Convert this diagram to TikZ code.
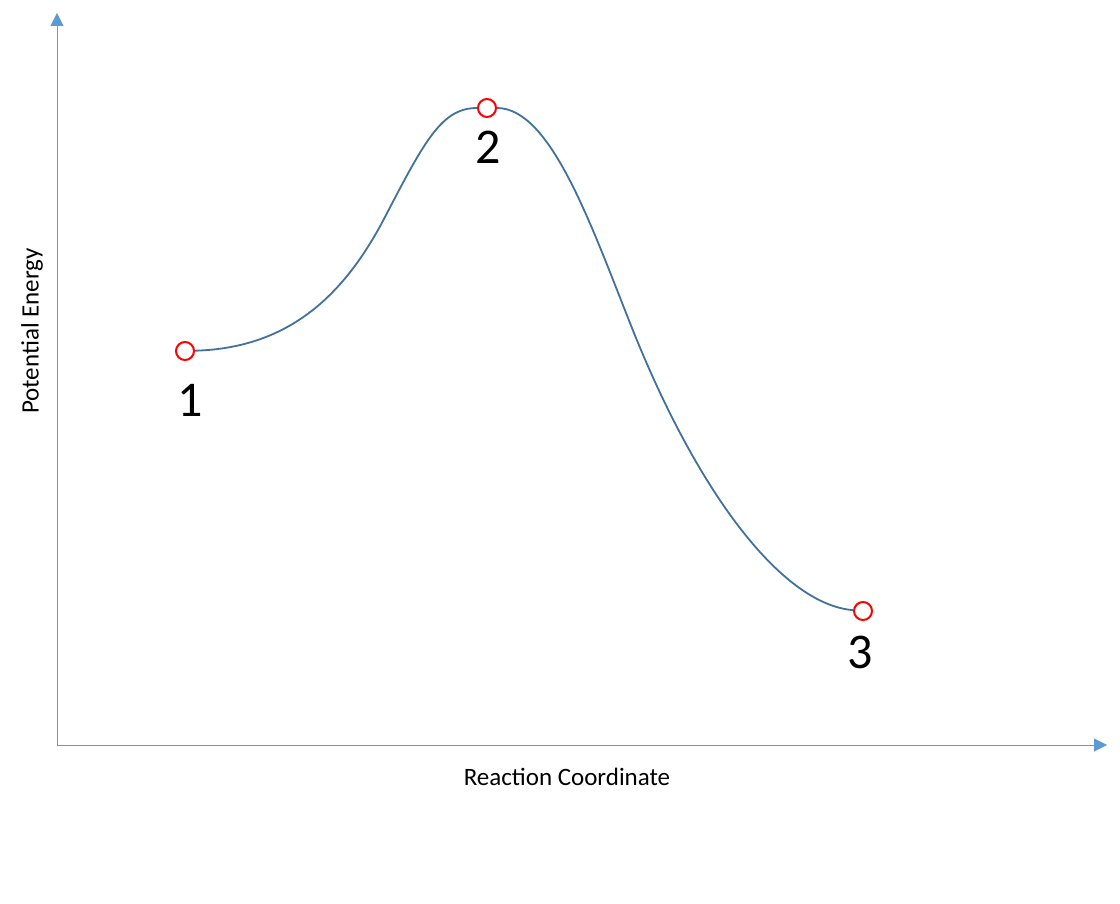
\documentclass[tikz,border=0pt]{standalone}
\usepackage{fontspec}
\setmainfont{Carlito}
\usepackage{tikz}
\usetikzlibrary{arrows.meta}
\definecolor{Acolor}{RGB}{91, 155, 213}
\definecolor{Ccolor}{RGB}{65, 113, 156}
\definecolor{Pcolor}{RGB}{255, 0, 0}
\def\statesize{9pt}
\def\labelsize{\fontsize{25}{30}\selectfont}
\def\axissize{\fontsize{12.5}{15}\selectfont}
\tikzset{
    axis/.style={draw=Acolor, line width=0.5pt, -{Triangle[length=6.5pt, width=6.5pt]}},
    curve/.style={draw=Ccolor, line width=0.9pt},
    state/.style={draw=Pcolor, shape=circle, fill=white, line width=1pt, minimum size=\statesize, inner sep=0pt},
    statelabel/.style={font=\labelsize, inner sep=0pt},
    axislabel/.style={font=\axissize, inner sep=0pt}
}

\begin{document}
\begin{tikzpicture}[x=0.5pt, y=-0.5pt]
    \useasboundingbox (0, 0) rectangle (1120, 904);
    % axes
    \coordinate (O) at (57, 745);
    \coordinate (Ytip) at (57, 13);
    \coordinate (Xtip) at (1107, 745);
    \draw[axis] (O) -- (Ytip);
    \draw[axis] (O) -- (Xtip);
    \node[axislabel] (xlab) at (567, 777) {Reaction Coordinate};
    \node[axislabel, rotate=90] (ylab) at (32, 331) {Potential Energy};
    % states
    \node[state] (s1) at (185, 351) {};
    \node[state] (s2) at (487, 108) {};
    \node[state] (s3) at (863, 611) {};
    \node[statelabel] (l1) at (190, 400) {1};
    \node[statelabel] (l2) at (488, 147) {2};
    \node[statelabel] (l3) at (860, 652) {3};
    % energy curve
    \coordinate (i1) at (385, 217);
    \coordinate (i2) at (630, 323);
    \draw[curve] (s1) .. controls (290, 348) and (345, 294) .. (i1)
        .. controls (425, 140) and (442, 108) .. (s2.west);
    \draw[curve] (s2.east) .. controls (550, 108) and (590, 222) .. (i2)
        .. controls (695, 488) and (780, 604) .. (s3);
\end{tikzpicture}
\end{document}
